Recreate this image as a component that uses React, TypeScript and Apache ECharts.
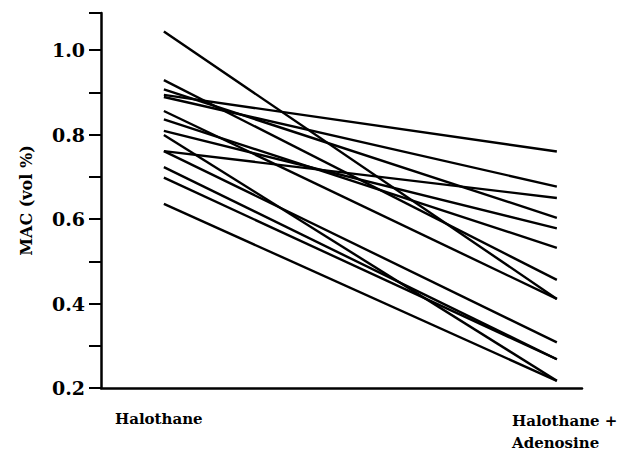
import React, { useEffect, useRef } from "react";
import * as echarts from "echarts";

// MAC (vol %) per subject: Halothane alone vs Halothane + Adenosine
const conditions = ["Halothane", "Halothane +\nAdenosine"];
const halothane = [1.044, 0.929, 0.907, 0.894, 0.889, 0.856, 0.836, 0.809, 0.799, 0.761, 0.761, 0.723, 0.698, 0.636];
const halothaneAdenosine = [0.411, 0.456, 0.603, 0.760, 0.677, 0.411, 0.532, 0.578, 0.217, 0.650, 0.308, 0.268, 0.268, 0.217];
const yLabelTicks = [0.2, 0.4, 0.6, 0.8, 1.0];

const FONT = '"DejaVu Serif", "Liberation Serif", serif';

export default function App() {
  const ref = useRef<HTMLDivElement>(null);
  useEffect(() => {
    const chart = echarts.init(ref.current as HTMLDivElement, null, { renderer: "svg" });
    const series = halothane.map((h, i) => ({
      type: "line",
      data: [
        [0, h],
        [1, halothaneAdenosine[i]],
      ],
      symbol: "none",
      silent: true,
      lineStyle: { color: "#000", width: 2.4 },
    }));
    chart.setOption({
      animation: false,
      backgroundColor: "#fff",
      grid: { left: 101, right: 54, top: 13, bottom: 64 },
      xAxis: {
        type: "value",
        min: -0.16,
        max: 1.064,
        axisLine: { onZero: false, lineStyle: { color: "#000", width: 2.5 } },
        axisTick: { show: false },
        axisLabel: { show: false },
        splitLine: { show: false },
      },
      yAxis: {
        type: "value",
        min: 0.2,
        max: 1.088,
        interval: 0.1,
        name: "MAC (vol %)",
        nameLocation: "middle",
        nameGap: 67,
        nameRotate: 90,
        nameTextStyle: { fontFamily: FONT, fontWeight: "bold", fontSize: 16, color: "#000" },
        axisLine: { onZero: false, lineStyle: { color: "#000", width: 2.5 } },
        axisTick: { show: true, length: 12, lineStyle: { color: "#000", width: 2 } },
        axisLabel: {
          margin: 16,
          color: "#000",
          fontFamily: FONT,
          fontWeight: "bold",
          fontSize: 19,
          formatter: (v: number) =>
            yLabelTicks.some((t) => Math.abs(t - v) < 1e-6) ? v.toFixed(1) : "",
        },
        splitLine: { show: false },
      },
      graphic: [
        {
          type: "text",
          left: 115,
          top: 411,
          style: { text: conditions[0], font: `bold 15px ${FONT}`, fill: "#000" },
        },
        {
          type: "text",
          left: 512,
          top: 410,
          style: { text: conditions[1], font: `bold 15px ${FONT}`, fill: "#000", lineHeight: 22 },
        },
      ],
      series,
    });
    return () => chart.dispose();
  }, []);
  return (
    <div
      ref={ref}
      style={{ position: "absolute", left: 0, top: 0, width: 636, height: 452 }}
    />
  );
}
